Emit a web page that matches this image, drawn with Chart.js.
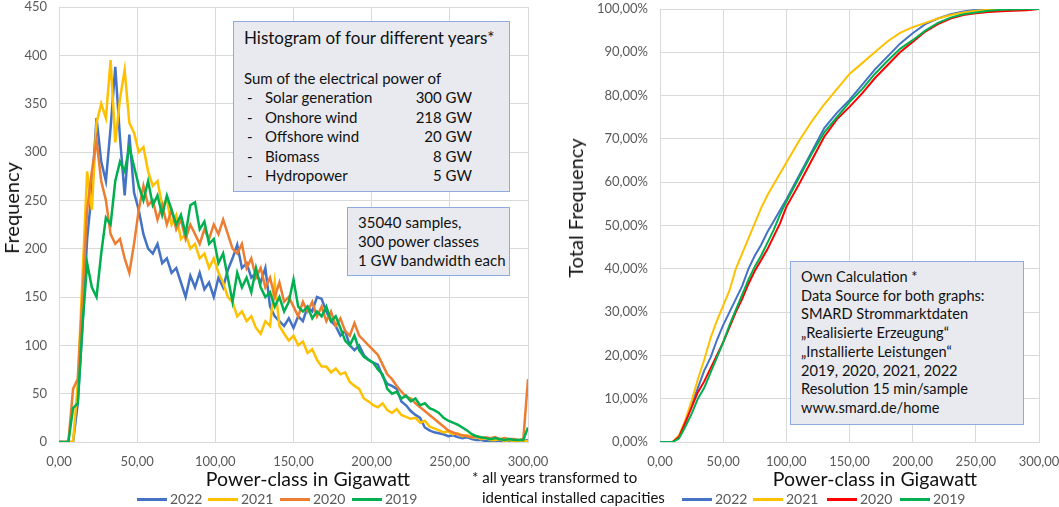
<!DOCTYPE html>
<html>
<head>
<meta charset="utf-8">
<script src="https://cdn.jsdelivr.net/npm/chart.js@4.4.1/dist/chart.umd.min.js"></script>
<style>
body{margin:0;width:1059px;height:507px;overflow:hidden;background:#fff;font-family:Lato,sans-serif;position:relative}
#wl{position:absolute;left:0;top:0;width:560px;height:507px}
#wr{position:absolute;left:540px;top:0;width:519px;height:507px}
.box{position:absolute;background:#e8eaf0;border:1px solid #8faadc;box-sizing:border-box;color:#111;font-size:15px;line-height:19.5px}
.row{position:absolute;white-space:nowrap}
.note{position:absolute;font-size:15px;color:#111;white-space:nowrap}
.ttl{position:absolute;font-size:19.5px;color:#111;white-space:nowrap;transform:translate(-50%,-50%)}
.ttl.v{font-size:20px;transform:translate(-50%,-50%) rotate(-90deg)}
.leg{position:absolute;font-size:14px;color:#595959;white-space:nowrap;top:490px}
.leg i{display:inline-block;width:30px;height:3px;vertical-align:middle;margin-right:3px;margin-top:-2px}
</style>
</head>
<body>
<div id="wr"><canvas id="cum"></canvas></div>
<div id="wl"><canvas id="hist"></canvas></div>

<div class="ttl v" style="left:11px;top:208px">Frequency</div>
<div class="ttl v" style="left:575px;top:208px">Total Frequency</div>
<div class="ttl" style="left:308px;top:478px">Power-class in Gigawatt</div>
<div class="ttl" style="left:875px;top:478px">Power-class in Gigawatt</div>

<div class="box" style="left:233px;top:21px;width:277px;height:171px">
  <div class="row" style="left:10px;top:6px;font-size:17px">Histogram of four different years*</div>
  <div class="row" style="left:10px;top:47px">Sum of the electrical power of</div>
  <div class="row" style="left:13px;top:66px">-</div><div class="row" style="left:31px;top:66px">Solar generation</div><div class="row" style="right:37px;top:66px">300 GW</div>
  <div class="row" style="left:13px;top:86px">-</div><div class="row" style="left:31px;top:86px">Onshore wind</div><div class="row" style="right:37px;top:86px">218 GW</div>
  <div class="row" style="left:13px;top:105px">-</div><div class="row" style="left:31px;top:105px">Offshore wind</div><div class="row" style="right:37px;top:105px">20 GW</div>
  <div class="row" style="left:13px;top:125px">-</div><div class="row" style="left:31px;top:125px">Biomass</div><div class="row" style="right:37px;top:125px">8 GW</div>
  <div class="row" style="left:13px;top:144px">-</div><div class="row" style="left:31px;top:144px">Hydropower</div><div class="row" style="right:37px;top:144px">5 GW</div>
</div>
<div class="box" style="left:347px;top:207px;width:163px;height:69px">
  <div class="row" style="left:10px;top:5px">35040 samples,</div>
  <div class="row" style="left:10px;top:24px">300 power classes</div>
  <div class="row" style="left:10px;top:43px">1 GW bandwidth each</div>
</div>
<div class="box" style="left:790px;top:261px;width:234px;height:164px;line-height:18.7px;font-size:14.6px">
  <div class="row" style="left:10px;top:6px">Own Calculation *<br>Data Source for both graphs:<br>SMARD Strommarktdaten<br>„Realisierte Erzeugung“<br>„Installierte Leistungen“<br>2019, 2020, 2021, 2022<br>Resolution 15 min/sample<br>www.smard.de/home</div>
</div>
<div class="note" style="left:472px;top:468px">* all years transformed to</div>
<div class="note" style="left:482px;top:488px">identical installed capacities</div>

<div class="leg" style="left:137px"><i style="background:#4472c4"></i>2022</div>
<div class="leg" style="left:208px"><i style="background:#ffc000"></i>2021</div>
<div class="leg" style="left:280px"><i style="background:#ed7d31"></i>2020</div>
<div class="leg" style="left:352px"><i style="background:#00b050"></i>2019</div>
<div class="leg" style="left:682px"><i style="background:#4472c4"></i>2022</div>
<div class="leg" style="left:753px"><i style="background:#ffc000"></i>2021</div>
<div class="leg" style="left:827px"><i style="background:#ff0000"></i>2020</div>
<div class="leg" style="left:900px"><i style="background:#00b050"></i>2019</div>

<script>
// power classes (GW) for the histogram, sampled every 3 GW
var histX = [0,3,6,9,12,15,18,21,24,27,30,33,36,39,42,45,48,51,54,57,60,63,66,69,72,75,78,81,84,87,90,93,96,99,
  102,105,108,111,114,117,120,123,126,129,132,135,138,141,144,147,150,153,156,159,162,165,168,171,174,177,180,183,186,189,192,195,198,
  201,204,207,210,213,216,219,222,225,228,231,234,237,240,243,246,249,252,255,258,261,264,267,270,273,276,279,282,285,288,291,294,297,300];

var hist2022 = [0,0,0,0,40,120,210,260,335,290,270,325,388,315,255,318,258,240,215,200,195,205,185,190,175,180,165,150,172,160,175,158,165,150,
  170,160,178,190,204,180,185,170,175,165,180,140,130,125,120,128,118,130,125,140,135,150,148,135,125,120,110,115,100,95,100,90,85,
  82,80,68,60,58,55,42,38,32,28,25,15,12,10,9,8,6,7,5,4,5,3,2,2,1,1,1,1,0,0,1,0,1,2];

var hist2021 = [0,0,0,0,60,170,280,240,330,350,335,395,310,355,385,330,320,300,305,280,265,270,245,250,225,235,210,215,200,205,190,195,180,190,
  175,165,150,145,130,135,125,130,118,112,125,120,165,120,112,105,110,100,104,92,96,85,78,78,72,76,70,72,62,58,55,45,42,
  38,36,40,33,30,34,28,26,24,25,20,22,16,14,12,10,11,8,9,6,7,5,5,3,4,2,2,3,1,2,1,1,1,1];

var hist2020 = [0,0,0,55,65,150,240,280,312,270,250,215,205,210,190,175,205,240,265,245,250,230,245,225,240,220,230,210,225,215,205,220,210,225,
  215,230,215,200,195,205,180,190,170,180,160,170,150,165,145,150,140,130,145,135,145,130,140,125,135,120,128,115,110,123,110,105,100,
  95,90,80,70,65,58,52,47,45,40,36,32,28,24,20,16,12,10,8,7,6,5,6,4,5,4,5,3,4,3,3,2,3,65];

var hist2019 = [0,0,0,35,40,120,185,160,150,195,232,225,270,290,280,305,285,265,250,270,245,255,235,255,240,225,235,215,245,248,220,228,205,210,
  185,195,170,145,175,160,170,155,180,160,150,155,140,150,135,145,168,140,135,140,128,135,130,140,125,130,118,105,100,110,95,88,85,
  82,75,70,55,50,52,45,48,42,45,38,40,35,33,30,25,22,20,18,15,12,8,6,5,4,3,4,3,2,3,2,2,2,15];

// cumulative share (%) read at these power classes
var cumX = [0,5,10,15,20,25,30,35,40,45,50,55,60,65,70,75,80,85,90,95,100,110,120,130,140,150,160,170,180,190,200,210,220,230,240,250,260,270,280,290,300];
var cum2022 = [0,0,0,1,4.5,8.5,12.5,16.5,19.5,23.5,27,30,33,36,40,43,45.5,48.5,51,53.5,56,61.5,67,72.5,76,79,82.5,86,89,92,94.4,96.5,97.8,98.8,99.4,99.8,99.9,100,100,100,100];
var cum2021 = [0,0,0,1.5,5,9.5,14.5,19,24,28,31.5,35,40,43.5,47,50.5,54,57,59.5,62,64.5,69.5,74,78,81.5,85,87.5,90,92.5,94.5,95.8,96.8,97.8,98.6,99.2,99.6,99.8,99.9,100,100,100];
var cum2020 = [0,0,0,1.2,4.5,8,11.5,14,17,20,23,26.5,30,33,36.5,39.5,42,44.5,47.5,50.5,54.3,59.5,65,70.5,74.5,77.4,80.5,84,87,90,92.4,94.8,96.5,97.8,98.6,99,99.3,99.5,99.6,99.7,100];
var cum2019 = [0,0,0,0.8,3.5,6.5,10,12.5,16,19.5,23,27,30.5,34,37.5,40.5,43,46,49,52.5,55.5,61,66.5,71.5,75,78.5,81.5,85,88,90.8,92.8,95,96.8,98,98.8,99.2,99.6,99.8,99.9,100,100];

var years = ['2019','2020','2021','2022'];

function pts(xs, ys) {
  return xs.map(function (x, i) { return {x: x, y: ys[i]}; });
}
function comma(v, d) {
  return Number(v).toFixed(d).replace('.', ',');
}

var tickFont = {family: 'Lato', size: 13};
var gridCol = '#d9d9d9';

function xAxis() {
  return {
    type: 'linear', min: 0, max: 300,
    ticks: {stepSize: 50, color: '#595959', font: tickFont, padding: 12, maxRotation: 0,
      callback: function (v) { return comma(v, 2); }},
    grid: {color: gridCol, drawTicks: false},
    border: {color: gridCol},
    afterFit: function (s) { s.height = 50; s.paddingLeft = 0; s.paddingRight = 0; }
  };
}

function yAxis(max, step, w, fmt) {
  return {
    min: 0, max: max,
    ticks: {stepSize: step, color: '#595959', font: tickFont, padding: 12, callback: fmt},
    grid: {color: gridCol, drawTicks: false},
    border: {color: gridCol},
    afterFit: function (s) { s.width = w; s.paddingTop = 0; s.paddingBottom = 0; }
  };
}

function line(label, data, color, w) {
  return {label: label, data: data, borderColor: color, backgroundColor: color,
    borderWidth: w, pointRadius: 0, tension: 0, fill: false};
}

Chart.defaults.font.family = 'Lato';
Chart.defaults.animation = false;

new Chart(document.getElementById('hist'), {
  type: 'line',
  data: {
    datasets: [
      line(years[0], pts(histX, hist2019), '#00b050', 2.5),
      line(years[1], pts(histX, hist2020), '#ed7d31', 2.5),
      line(years[2], pts(histX, hist2021), '#ffc000', 2.5),
      line(years[3], pts(histX, hist2022), '#4472c4', 2.5)
    ]
  },
  options: {
    responsive: true, maintainAspectRatio: false,
    layout: {padding: {top: 7, right: 32, bottom: 15, left: 0}},
    plugins: {legend: {display: false}, tooltip: {enabled: false}},
    scales: {
      x: xAxis(),
      y: yAxis(450, 50, 59, function (v) { return v; })
    }
  }
});

new Chart(document.getElementById('cum'), {
  type: 'line',
  data: {
    datasets: [
      line(years[0], pts(cumX, cum2019), '#00b050', 2),
      line(years[1], pts(cumX, cum2020), '#ff0000', 2),
      line(years[2], pts(cumX, cum2021), '#ffc000', 2),
      line(years[3], pts(cumX, cum2022), '#4472c4', 2)
    ]
  },
  options: {
    responsive: true, maintainAspectRatio: false,
    layout: {padding: {top: 9, right: 20, bottom: 15, left: 0}},
    plugins: {legend: {display: false}, tooltip: {enabled: false}},
    scales: {
      x: xAxis(),
      y: yAxis(100, 10, 120, function (v) { return comma(v, 2) + '%'; })
    }
  }
});
</script>
</body>
</html>
